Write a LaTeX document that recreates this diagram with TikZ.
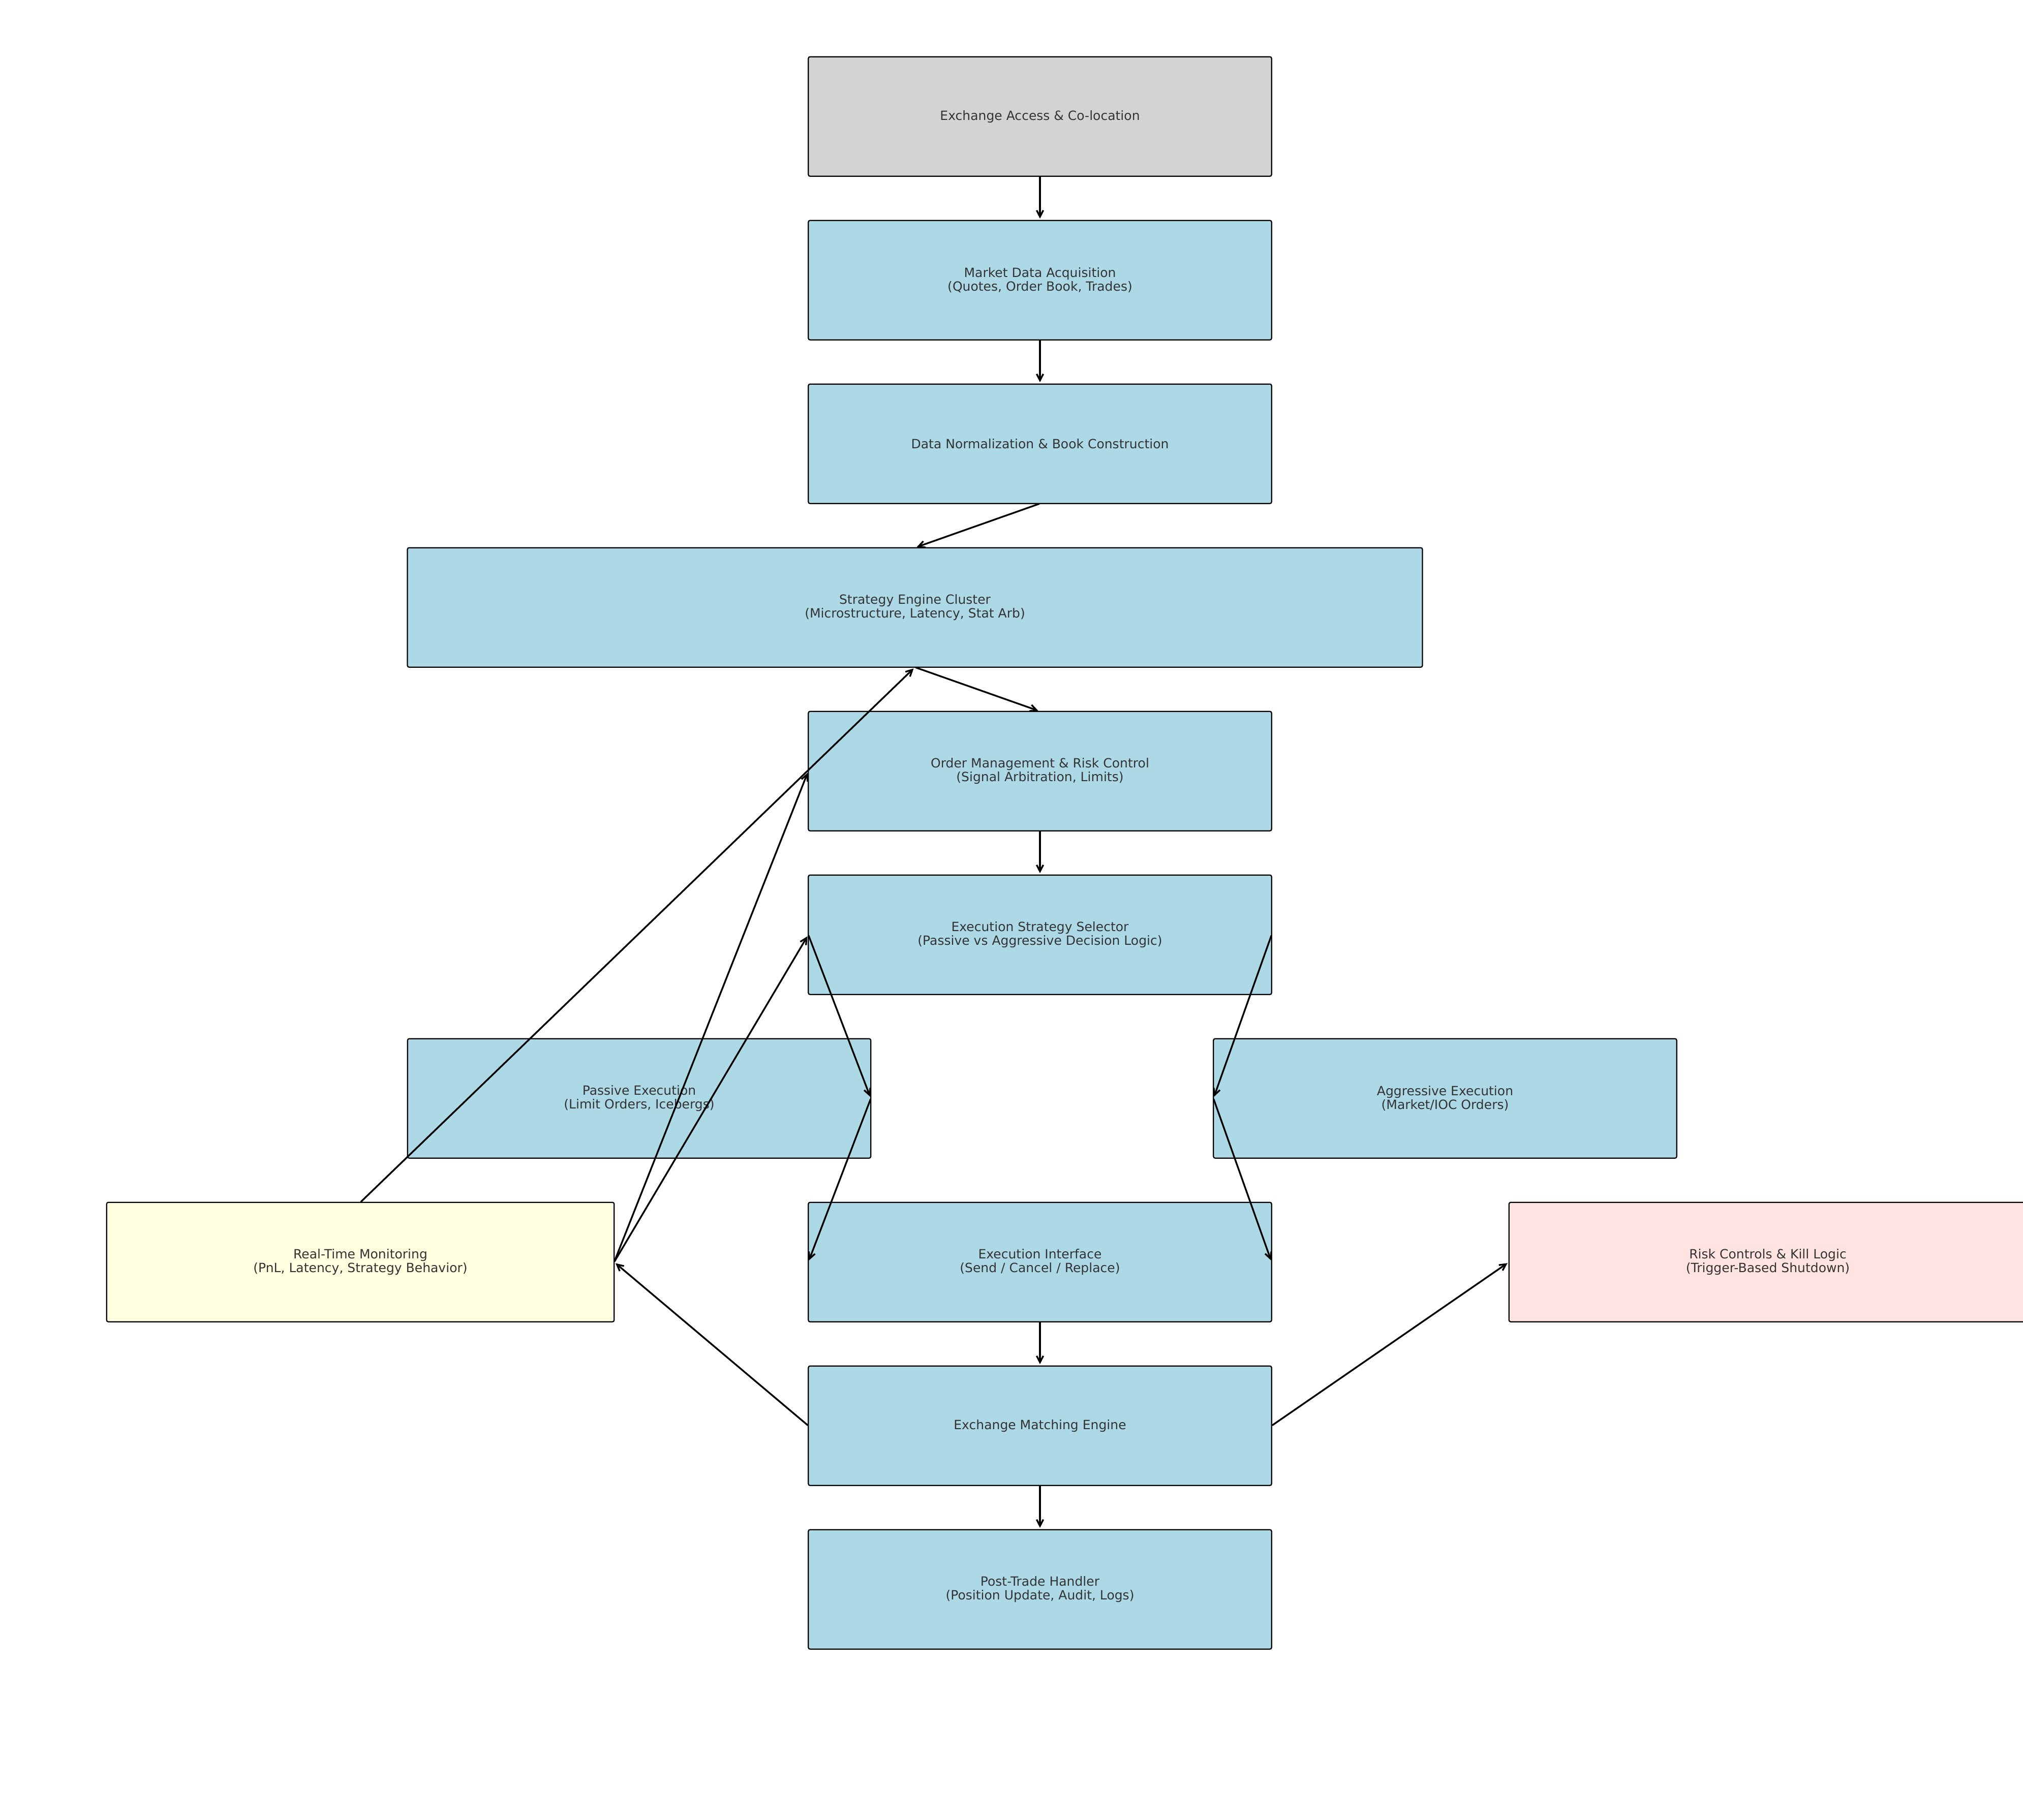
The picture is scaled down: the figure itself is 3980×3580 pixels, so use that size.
\documentclass[tikz,border=0pt]{standalone}
\usepackage{fontspec}
\setmainfont{DejaVu Sans}
\usetikzlibrary{arrows.meta}
\definecolor{boxblue}{HTML}{ADD8E6}
\definecolor{boxgray}{HTML}{D3D3D3}
\definecolor{boxyellow}{HTML}{FFFFE0}
\definecolor{boxpink}{HTML}{FFE4E1}
\definecolor{txtgray}{HTML}{333333}
\begin{document}
\begin{tikzpicture}[x=0.01cm,y=-0.01cm,
  procbox/.style={draw=black, line width=0.65pt, rounded corners=1pt, fill=boxblue,
    minimum width=9.11cm, minimum height=2.35cm, inner sep=0pt, outer sep=0pt,
    align=center, text=txtgray, font=\fontsize{7.12}{7.6}\selectfont},
  flow/.style={draw=black, line width=0.95pt, line cap=round,
    -{Straight Barb[length=3.6pt,width=3.7pt]}, shorten >=1pt, shorten <=0.5pt}]
\useasboundingbox (0,0) rectangle (3980,3580);
\clip (0,0) rectangle (3980,3580);

\node[procbox, fill=boxgray] (ex) at (2046,229.2) {Exchange Access \& Co-location};
\node[procbox] (md) at (2046,551.2) {Market Data Acquisition\\(Quotes, Order Book, Trades)};
\node[procbox] (dn) at (2046,873.2) {Data Normalization \& Book Construction};
\node[procbox, minimum width=19.96cm] (se) at (1800,1195.2) {Strategy Engine Cluster\\(Microstructure, Latency, Stat Arb)};
\node[procbox] (om) at (2046,1517.2) {Order Management \& Risk Control\\(Signal Arbitration, Limits)};
\node[procbox] (es) at (2046,1839.2) {Execution Strategy Selector\\(Passive vs Aggressive Decision Logic)};
\node[procbox] (pe) at (1257.5,2161.2) {Passive Execution\\(Limit Orders, Icebergs)};
\node[procbox] (ae) at (2843,2161.2) {Aggressive Execution\\(Market/IOC Orders)};
\node[procbox, fill=boxyellow, minimum width=9.98cm] (rm) at (709,2483.2) {Real-Time Monitoring\\(PnL, Latency, Strategy Behavior)};
\node[procbox] (ei) at (2046,2483.2) {Execution Interface\\(Send / Cancel / Replace)};
\node[procbox, fill=boxpink, minimum width=10.18cm] (rk) at (3478,2483.2) {Risk Controls \& Kill Logic\\(Trigger-Based Shutdown)};
\node[procbox] (me) at (2046,2805.2) {Exchange Matching Engine};
\node[procbox] (pt) at (2046,3127.2) {Post-Trade Handler\\(Position Update, Audit, Logs)};

\draw[flow] (ex.south) -- (md.north);
\draw[flow] (md.south) -- (dn.north);
\draw[flow] (dn.south) -- (se.north);
\draw[flow] (se.south) -- (om.north);
\draw[flow] (om.south) -- (es.north);
\draw[flow] (es.west) -- (pe.east);
\draw[flow] (es.east) -- (ae.west);
\draw[flow] (pe.east) -- (ei.west);
\draw[flow] (ae.west) -- (ei.east);
\draw[flow] (ei.south) -- (me.north);
\draw[flow] (me.west) -- (rm.east);
\draw[flow] (me.east) -- (rk.west);
\draw[flow] (rm.north) -- (se.south);
\draw[flow] (rm.east) -- (om.west);
\draw[flow] (rm.east) -- (es.west);
\draw[flow] (me.south) -- (pt.north);
\end{tikzpicture}
\end{document}
